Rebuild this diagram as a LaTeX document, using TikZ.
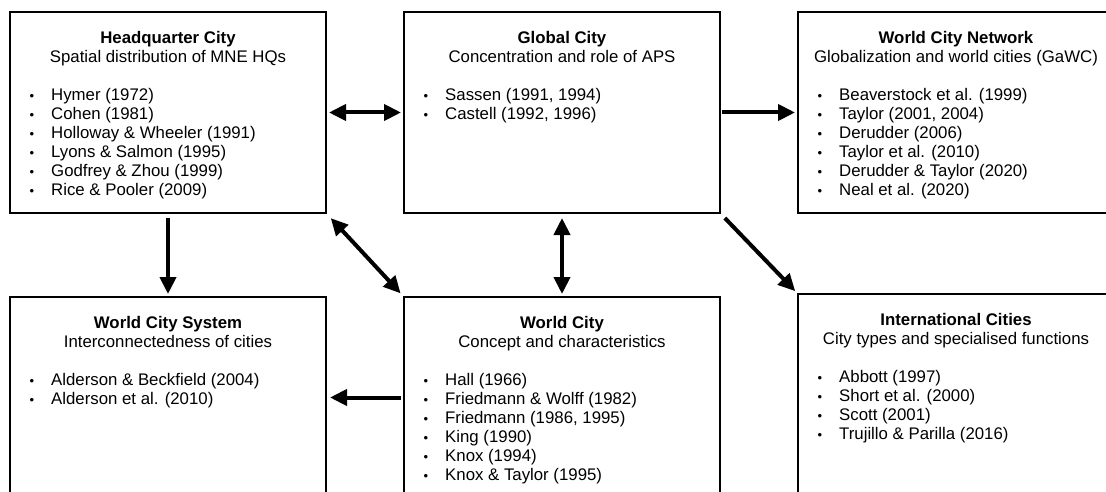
\documentclass[tikz,border=0pt]{standalone}
\usepackage{fontspec}
\setmainfont{Liberation Sans}
\usetikzlibrary{arrows.meta,calc}
\tikzset{
  citybox/.style={draw, line width=2.6pt, minimum width=316pt, minimum height=201pt, inner sep=0pt, outer sep=0pt},
  boxtitle/.style={font=\fontsize{16.8}{19}\selectfont\bfseries, anchor=base, inner sep=0pt},
  boxsub/.style={font=\fontsize{16.8}{19}\selectfont, anchor=base, inner sep=0pt},
  boxitem/.style={font=\fontsize{16.8}{19}\selectfont, anchor=base west, inner sep=0pt},
  boxbul/.style={font=\fontsize{13}{19}\selectfont, anchor=base, inner sep=0pt},
  link/.style={line width=4pt, -{Triangle[length=17pt,width=16pt]}},
  dlink/.style={line width=4pt, {Triangle[length=17pt,width=16pt]}-{Triangle[length=17pt,width=16pt]}},
}
\newcommand\citybox[6]{%
  \node[citybox] (#1) at (#2+158,#3+100.5) {};
  \node[boxtitle] (#1-t) at (#2+158,#3+31.5) {#4};
  \node[boxsub] (#1-s) at (#2+158,#3+50.5) {#5};
  \foreach \txt [count=\i] in {#6} {
    \node[boxbul] (#1-b\i) at (#2+22,#3+69.5+19*\i) {\textbullet};
    \node[boxitem] (#1-i\i) at (#2+41,#3+69.5+19*\i) {\txt};
  }%
}
\begin{document}
\begin{tikzpicture}[x=1pt,y=-1pt]
\useasboundingbox (0,0) rectangle (1106,492);
\clip (0,0) rectangle (1106,492);
\fill[white] (0,0) rectangle (1106,492);
\citybox{hq}{10}{12}{Headquarter City}{Spatial distribution of MNE HQs}{{Hymer (1972)},{Cohen (1981)},{Holloway \& Wheeler (1991)},{Lyons \& Salmon (1995)},{Godfrey \& Zhou (1999)},{Rice \& Pooler (2009)}}
\citybox{gc}{404}{12}{Global City}{Concentration and role of APS}{{Sassen (1991, 1994)},{Castell (1992, 1996)}}
\citybox{wcn}{798}{12}{World City Network}{Globalization and world cities (GaWC)}{{Beaverstock et al. (1999)},{Taylor (2001, 2004)},{Derudder (2006)},{Taylor et al. (2010)},{Derudder \& Taylor (2020)},{Neal et al. (2020)}}
\citybox{wcs}{10}{297}{World City System}{Interconnectedness of cities}{{Alderson \& Beckfield (2004)},{Alderson et al. (2010)}}
\citybox{wc}{404}{297}{World City}{Concept and characteristics}{{Hall (1966)},{Friedmann \& Wolff (1982)},{Friedmann (1986, 1995)},{King (1990)},{Knox (1994)},{Knox \& Taylor (1995)}}
\citybox{ic}{798}{294}{International Cities}{City types and specialised functions}{{Abbott (1997)},{Short et al. (2000)},{Scott (2001)},{Trujillo \& Parilla (2016)}}
\draw[dlink, shorten <=3pt, shorten >=3pt] (hq.east) -- (gc.west);
\draw[link, shorten <=2pt, shorten >=3pt] (gc.east) -- (wcn.west);
\draw[link, shorten <=5pt, shorten >=3pt] (hq.south) -- (wcs.north);
\draw[dlink, shorten <=7pt, shorten >=5pt] (hq.south east) -- (wc.north west);
\draw[dlink, shorten <=5pt, shorten >=3pt] (gc.south) -- (wc.north);
\draw[link, shorten <=7pt, shorten >=4pt] (gc.south east) -- (ic.north west);
\draw[link, shorten <=3pt, shorten >=4pt] (wc.west) -- (wcs.east);
\end{tikzpicture}
\end{document}
